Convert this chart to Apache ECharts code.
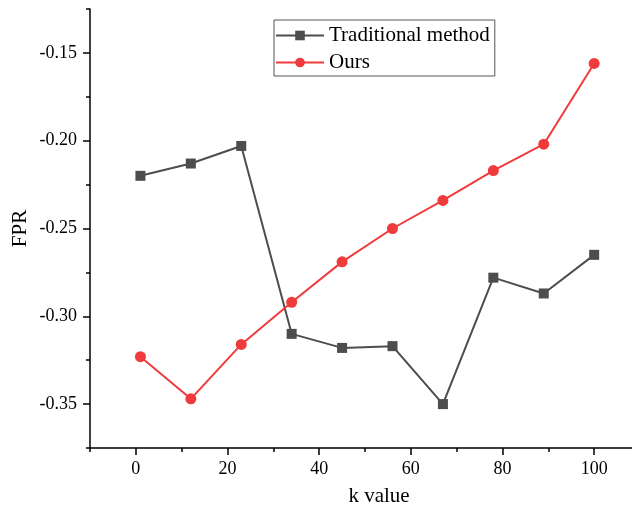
<!DOCTYPE html>
<html><head><meta charset="utf-8">
<script src="https://cdn.jsdelivr.net/npm/echarts@6/dist/echarts.min.js"></script>
<style>html,body{margin:0;padding:0;background:#fff}#c{width:632px;height:510px}</style>
</head><body><div id="c"></div>
<script>
const kValues = [1, 12, 23, 34, 45, 56, 67, 78, 89, 100];
const traditional = [-0.220, -0.213, -0.203, -0.310, -0.318, -0.317, -0.350, -0.278, -0.287, -0.265];
const ours = [-0.323, -0.347, -0.316, -0.292, -0.269, -0.250, -0.234, -0.217, -0.202, -0.156];
const xMajorTicks = [0, 20, 40, 60, 80, 100];
const yMajorTicks = [-0.35, -0.30, -0.25, -0.20, -0.15];
const seriesNames = ['Traditional method', 'Ours'];

const font = 'Liberation Serif';
const pair = (xs, ys) => xs.map((x, i) => [x, ys[i]]);
const chart = echarts.init(document.getElementById('c'));
const axisLine = {show: true, onZero: false, lineStyle: {color: '#000', width: 1.5}};
chart.setOption({
  animation: false,
  backgroundColor: '#fff',
  grid: {left: 90, top: 9, right: -8, bottom: 62, containLabel: false, outerBoundsMode: 'none'},
  legend: {
    left: 274, top: 20, orient: 'vertical',
    backgroundColor: '#fff', borderColor: '#555', borderWidth: 1,
    padding: [5, 5, 3, 1], itemGap: 6, itemWidth: 48, itemHeight: 12,
    textStyle: {fontFamily: font, fontSize: 21, color: '#000', lineHeight: 20},
    data: seriesNames
  },
  xAxis: [
    {type: 'value', min: -10, max: 110, interval: 10, position: 'bottom',
     axisLine: axisLine, axisTick: {show: true, inside: false, length: 4, lineStyle: {color: '#000', width: 1.5}},
     axisLabel: {show: false}, splitLine: {show: false},
     name: 'k value', nameLocation: 'middle', nameGap: 38,
     nameTextStyle: {fontFamily: font, fontSize: 21, color: '#000', padding: [0, 0, 0, 28]}},
    {type: 'value', min: -10, max: 110, position: 'bottom',
     axisLine: {show: false, onZero: false},
     axisTick: {show: true, length: 7, customValues: xMajorTicks, lineStyle: {color: '#000', width: 1.5}},
     axisLabel: {show: true, customValues: xMajorTicks, margin: 12, fontFamily: font, fontSize: 18, color: '#000'},
     splitLine: {show: false}}
  ],
  yAxis: [
    {type: 'value', min: -0.375, max: -0.125, interval: 0.025, position: 'left',
     axisLine: axisLine, axisTick: {show: true, length: 4, lineStyle: {color: '#000', width: 1.5}},
     axisLabel: {show: false}, splitLine: {show: false},
     name: 'FPR', nameLocation: 'middle', nameGap: 59, nameRotate: 90,
     nameTextStyle: {fontFamily: font, fontSize: 21, color: '#000'}},
    {type: 'value', min: -0.375, max: -0.125, position: 'left',
     axisLine: {show: false, onZero: false},
     axisTick: {show: true, length: 7, customValues: yMajorTicks, lineStyle: {color: '#000', width: 1.5}},
     axisLabel: {show: true, customValues: yMajorTicks, margin: 13, fontFamily: font, fontSize: 18, color: '#000',
       formatter: v => v.toFixed(2)},
     splitLine: {show: false}}
  ],
  series: [
    {name: seriesNames[0], type: 'line', data: pair(kValues, traditional),
     symbol: 'rect', symbolSize: 10, color: '#4d4d4d',
     lineStyle: {width: 2, color: '#4d4d4d'}, itemStyle: {color: '#4d4d4d'}},
    {name: seriesNames[1], type: 'line', data: pair(kValues, ours),
     symbol: 'circle', symbolSize: 11, color: '#ef3b3b',
     lineStyle: {width: 2, color: '#ef3b3b'}, itemStyle: {color: '#ef3b3b'}}
  ]
});
</script></body></html>
